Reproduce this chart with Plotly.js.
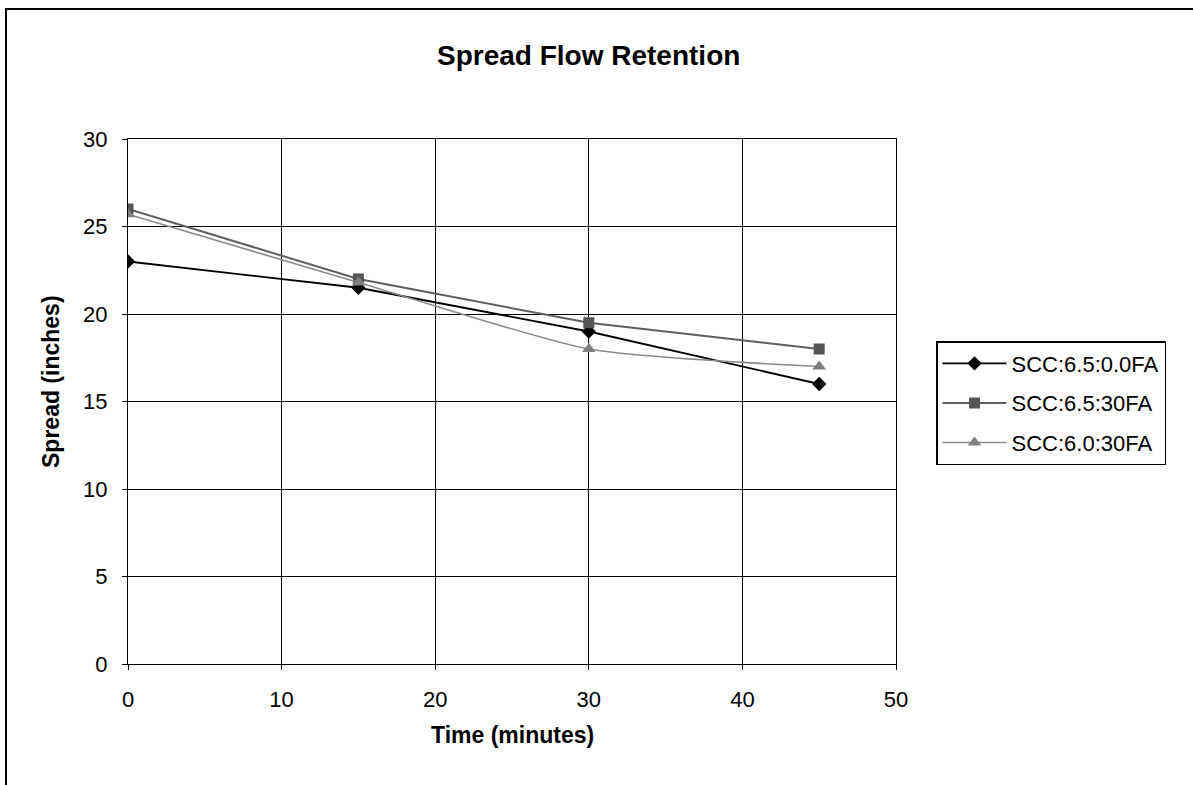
<!DOCTYPE html>
<html>
<head>
<meta charset="utf-8">
<script src="https://cdn.plot.ly/plotly-3.0.1.min.js"></script>
<style>
  html, body { margin: 0; padding: 0; background: #fff; overflow: hidden; }
  #chart { width: 1193px; height: 785px; position: absolute; left: 0; top: 0; }
  #frame { position: absolute; left: 5px; top: 8px; width: 1300px; height: 900px;
           border-left: 2px solid #000; border-top: 2px solid #000; pointer-events: none; }
</style>
</head>
<body>
<div id="chart"></div>
<div id="frame"></div>
<script>
// Data
const timeMinutes = [0, 15, 30, 45];
const seriesNames = ["SCC:6.5:0.0FA", "SCC:6.5:30FA", "SCC:6.0:30FA"];
const spreadA = [23, 21.5, 19, 16];
const spreadB = [26, 22, 19.5, 18];
const spreadC = [25.7, 21.8, 18, 17];
const xTicks = [0, 10, 20, 30, 40, 50];
const yTicks = [0, 5, 10, 15, 20, 25, 30];

const FONT = "Liberation Sans, Arial, sans-serif";

const traces = [
  { x: timeMinutes, y: spreadA, name: seriesNames[0], mode: "lines+markers", legendgroup: "a",
    line: { color: "#000000", width: 1.8 },
    marker: { symbol: "diamond", size: 11, color: "#000000" } },
  { x: timeMinutes, y: spreadB, name: seriesNames[1], mode: "lines+markers", legendgroup: "b",
    line: { color: "#5f5f5f", width: 2 },
    marker: { symbol: "square", size: 11, color: "#555555" } },
  { x: timeMinutes, y: spreadC, name: seriesNames[2], mode: "lines+markers", legendgroup: "c",
    line: { color: "#8a8a8a", width: 1.6, shape: "spline", smoothing: 0.6 },
    marker: { symbol: "triangle-up", size: 12, color: "#808080" } }
];

const layout = {
  width: 1193, height: 785,
  margin: { l: 128, r: 297, t: 139, b: 121 },
  paper_bgcolor: "#ffffff", plot_bgcolor: "#ffffff",
  font: { family: FONT, color: "#000000", size: 22 },
  showlegend: true,
  legend: {
    x: (936 - 128) / 768, y: (664 - 341) / 525, xanchor: "left", yanchor: "top",
    bordercolor: "#000000", borderwidth: 1.5, bgcolor: "#ffffff",
    font: { family: FONT, size: 22, color: "#000000" },
    traceorder: "grouped", tracegroupgap: 8, itemwidth: 64
  },
  xaxis: {
    range: [0, 50], tickvals: xTicks, ticktext: xTicks.map(String),
    showgrid: true, gridcolor: "#000000", gridwidth: 1,
    showline: true, linecolor: "#000000", linewidth: 1, mirror: true,
    ticks: "outside", ticklen: 5, tickcolor: "#000000",
    zeroline: false, ticklabelstandoff: 11,
    tickfont: { family: FONT, size: 22 }
  },
  yaxis: {
    range: [0, 30], tickvals: yTicks, ticktext: yTicks.map(String),
    showgrid: true, gridcolor: "#000000", gridwidth: 1,
    showline: true, linecolor: "#000000", linewidth: 1, mirror: true,
    ticks: "outside", ticklen: 5, tickcolor: "#000000",
    zeroline: false, ticklabelstandoff: 10,
    tickfont: { family: FONT, size: 22 }
  },
  annotations: [
    { text: "<b>Spread Flow Retention</b>", xref: "paper", yref: "paper",
      x: (588 - 128) / 768, y: (664 - 55) / 525, xanchor: "center", yanchor: "middle",
      showarrow: false, font: { family: FONT, size: 28 } },
    { text: "<b>Time (minutes)</b>", xref: "paper", yref: "paper",
      x: (512 - 128) / 768, y: (664 - 735) / 525, xanchor: "center", yanchor: "middle",
      showarrow: false, font: { family: FONT, size: 23 } },
    { text: "<b>Spread (inches)</b>", xref: "paper", yref: "paper", textangle: -90,
      x: (51 - 128) / 768, y: (664 - 382) / 525, xanchor: "center", yanchor: "middle",
      showarrow: false, font: { family: FONT, size: 23 } }
  ]
};

Plotly.newPlot("chart", traces, layout, { displayModeBar: false, staticPlot: true });
</script>
</body>
</html>
